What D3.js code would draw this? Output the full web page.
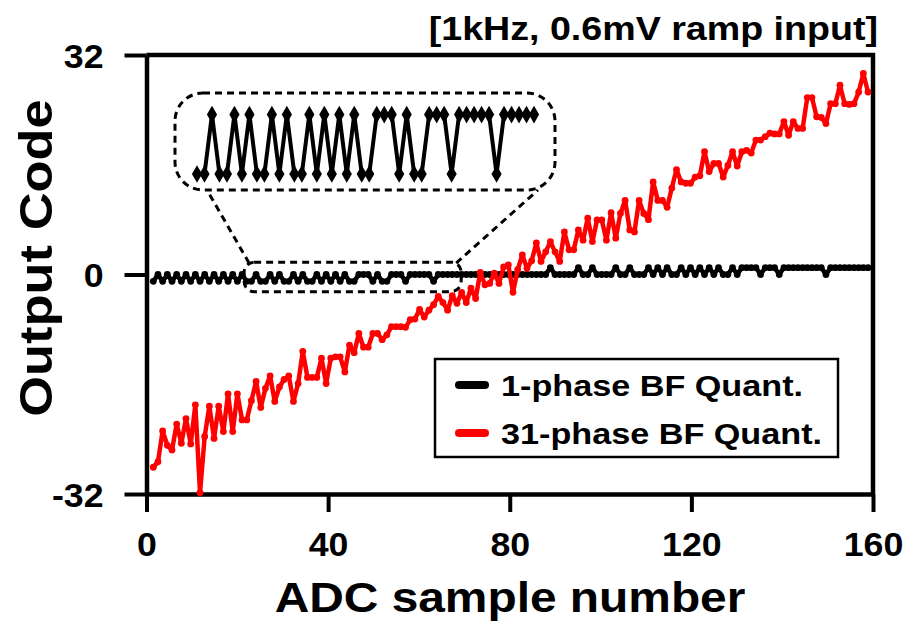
<!DOCTYPE html>
<html>
<head>
<meta charset="utf-8">
<script src="https://cdn.jsdelivr.net/npm/d3@7"></script>
<style>
  html, body { margin: 0; padding: 0; background: #fff; }
  svg { display: block; }
  text { font-family: "Liberation Sans", Arial, Helvetica, sans-serif; font-weight: bold; fill: #000; }
</style>
</head>
<body>
<svg id="chart" width="913" height="632"></svg>
<script>
// ---- data ----
const xTicks = [0, 40, 80, 120, 160];
const yTicks = [-32, 0, 32];
const sampleRange = [1.5, 158.9];          // first and last ADC sample shown

// 31-phase BF quantizer output code
const redCode = [
  -28.1, -27.3, -22.8, -24.9, -25.6, -21.8, -24.6, -21.0, -24.7, -19.0,
  -31.8, -23.6, -19.2, -23.9, -19.2, -22.9, -17.4, -22.9, -17.4, -21.2,
  -21.2, -18.4, -15.6, -19.4, -16.6,
  -14.8, -18.5, -16.4, -15.3, -14.8, -18.5, -15.9, -11.2, -15.0, -15.0,
  -15.0, -12.2, -15.9, -12.2, -12.0, -12.0, -14.2, -10.3, -11.4, -8.6,
  -10.6, -10.6, -8.6, -8.6, -9.5, -8.8,
  -7.6, -7.6, -7.6, -7.7, -6.6, -6.5, -5.1, -6.2, -5.2, -4.4,
  -3.2, -4.1, -5.2, -3.1, -4.2, -2.6, -4.1, -2.0, -3.5, 0.3,
  -1.5, -1.3, 0.2, -1.3,
  1.1, 1.4, -2.6, 0.7, 2.85, 0.9, 2.0, 4.6, 1.9, 3.3,
  4.8, 3.3, 1.9, 6.2, 3.6, 3.6, 6.5, 5.0, 8.2, 4.8,
  7.95, 7.95, 5.0, 9.0, 5.3, 8.9, 10.8, 6.5,
  6.2, 10.8, 8.9, 8.0, 13.5, 10.8, 10.8, 9.8, 12.6, 15.3,
  13.5, 13.3, 13.3, 14.2, 14.4, 17.9, 15.0, 16.2, 16.2, 14.2,
  15.9, 17.9, 15.8, 17.9, 18.1,
  17.7, 19.6, 19.6, 20.1, 20.6, 20.5, 20.5, 22.3, 20.3, 22.3,
  21.3, 21.3, 25.8, 25.8, 23.0, 22.9, 22.0, 24.9, 24.9, 27.6,
  24.9, 24.8, 24.9, 26.6, 29.3, 26.6
];

// 1-phase BF quantizer output code
const blackCode = [
  -1, 0, -1, 0, -1, 0, -1, 0, -1, 0, -1, 0, -1, 0, -1, 0, -1, 0, -1, 0,
  -1, -1, 0, -1, -1, 0, -1, 0, -1, -1, 0, -1, 0, -1, -1, 0, -1, 0, -1, 0,
  -1, 0, -1, -1, 0, 0, 0, -1, 0, -1, -1, 0, 0, 0, -1, 0, 0, 0, 0, 0,
  -1, 0, 0, 0, 0, 0,
  0, 0, 0, 0, 0, 0, 0, 0, 0, 0, 0, 0, 0, 0, 0, 0, 0, 0, 0,
  1, 0, 0, 0, 0, 0, 1, 0, 0, 1, 0, 0, 0, 0, 1, 0, 0, 1, 0, 0, 0,
  1, 0, 1, 0, 1, 0, 0, 1, 0, 1, 0, 1, 0, 1, 0, 1, 0, 0, 1, 0, 1, 1, 1, 1,
  0, 1, 1, 1, 0, 1, 1, 1, 1, 1, 1, 1, 1, 1, 0, 1, 1, 1, 1, 1, 1, 1, 1, 1
];

// magnified window (sample range and code range)
const zoomWindow = { x0: 21.5, x1: 69.3, y0: -2.5, y1: 1.8 };

const seriesNames = ["1-phase BF Quant.", "31-phase BF Quant."];
const seriesColors = ["#000000", "#ff0000"];
const titleText = "[1kHz, 0.6mV ramp input]";
const xLabel = "ADC sample number";
const yLabel = "Output Code";

// ---- layout ----
const SX = 1.14;   // wide bold lettering
const TX = 1.05;   // tick label widening
const svg = d3.select("#chart");
svg.append("rect").attr("width", 913).attr("height", 632).attr("fill", "#fff");

const x = d3.scaleLinear().domain([0, 160]).range([146.5, 873]);
const y = d3.scaleLinear().domain([-32, 32]).range([494, 55]);

const sampleAt = (i, n) => sampleRange[0] + i * (sampleRange[1] - sampleRange[0]) / (n - 1);
const redPts = redCode.map((v, i) => [sampleAt(i, redCode.length), v]);
const blackPts = blackCode.map((v, i) => [sampleAt(i, blackCode.length), v]);

function label(parent, px, py, str, size, anchor, rot) {
  parent.append("g")
    .attr("transform", `translate(${px},${py}) rotate(${rot || 0}) scale(${SX},1)`)
    .append("text")
    .attr("text-anchor", anchor)
    .style("font-size", size + "px")
    .text(str);
}

// ---- axes ----
const gx = svg.append("g")
  .attr("transform", `translate(0,${y(-32)})`)
  .call(d3.axisBottom(x).tickValues(xTicks).tickSize(18).tickSizeOuter(0).tickFormat(d => String(d)));
const gy = svg.append("g")
  .attr("transform", `translate(${x(0)},0)`)
  .call(d3.axisLeft(y).tickValues(yTicks).tickSize(22).tickSizeOuter(0).tickFormat(d => String(d)));

[gx, gy].forEach(g => {
  g.select(".domain").attr("stroke", "#000").attr("stroke-width", 4.5);
  g.selectAll(".tick line").attr("stroke", "#000").attr("stroke-width", 4);
  g.selectAll(".tick text").attr("fill", "#000").style("font-size", "34px")
    .style("font-family", "'Liberation Sans', Arial, sans-serif").style("font-weight", "bold");
});
gx.selectAll(".tick text").attr("transform", `scale(${TX},1)`).attr("y", 38).attr("dy", "0.71em");
gy.selectAll(".tick text").attr("x", -43 / TX).attr("dy", "0.36em").attr("transform", `scale(${TX},1)`);

// frame: top and right edges
svg.append("path")
  .attr("d", `M${x(0)},${y(32)}H${x(160)}V${y(-32)}`)
  .attr("fill", "none").attr("stroke", "#000").attr("stroke-width", 4.5);

// ---- series ----
const line = d3.line().x(d => x(d[0])).y(d => y(d[1]));

function drawSeries(pts, color, width, r) {
  const g = svg.append("g");
  g.append("path").datum(pts).attr("d", line)
    .attr("fill", "none").attr("stroke", color).attr("stroke-width", width)
    .attr("stroke-linejoin", "round");
  g.selectAll("circle").data(pts).join("circle")
    .attr("cx", d => x(d[0])).attr("cy", d => y(d[1])).attr("r", r).attr("fill", color);
}
drawSeries(blackPts, seriesColors[0], 4.5, 3.4);
drawSeries(redPts, seriesColors[1], 4.5, 3.4);

// ---- magnified view of the 1-phase output ----
const dash = "7,5";
const zb = {
  l: x(zoomWindow.x0), r: x(zoomWindow.x1),
  t: y(zoomWindow.y1), b: y(zoomWindow.y0)
};
svg.append("rect")
  .attr("x", zb.l).attr("y", zb.t).attr("width", zb.r - zb.l).attr("height", zb.b - zb.t)
  .attr("rx", 10).attr("fill", "none").attr("stroke", "#000").attr("stroke-width", 3)
  .attr("stroke-dasharray", dash);

const inset = { l: 175, r: 555, t: 93, b: 190 };
svg.append("rect")
  .attr("x", inset.l).attr("y", inset.t).attr("width", inset.r - inset.l).attr("height", inset.b - inset.t)
  .attr("rx", 28).attr("fill", "#fff").attr("stroke", "#000").attr("stroke-width", 3)
  .attr("stroke-dasharray", dash);

svg.append("line").attr("x1", zb.l + 5).attr("y1", zb.t + 1).attr("x2", 207).attr("y2", inset.b)
  .attr("stroke", "#000").attr("stroke-width", 3).attr("stroke-dasharray", dash);
svg.append("line").attr("x1", zb.r - 5).attr("y1", zb.t + 1).attr("x2", 538).attr("y2", inset.b)
  .attr("stroke", "#000").attr("stroke-width", 3).attr("stroke-dasharray", dash);

const insetPts = blackPts.filter(d => d[0] >= zoomWindow.x0 && d[0] <= zoomWindow.x1);
const ix = d3.scaleLinear().domain(d3.extent(insetPts, d => d[0])).range([197, 534]);
const iy = d3.scaleLinear().domain([-1, 0]).range([174, 114.6]);
const iline = d3.line().x(d => ix(d[0])).y(d => iy(d[1]));
const ig = svg.append("g");
ig.append("path").datum(insetPts).attr("d", iline)
  .attr("fill", "none").attr("stroke", "#000").attr("stroke-width", 4).attr("stroke-linejoin", "round");
ig.selectAll("path.mk").data(insetPts).join("path").attr("class", "mk")
  .attr("transform", d => `translate(${ix(d[0])},${iy(d[1])})`)
  .attr("d", d3.symbol(d3.symbolDiamond, 90)).attr("fill", "#000");

// ---- legend ----
const lg = svg.append("g");
lg.append("rect").attr("x", 435).attr("y", 359).attr("width", 403).attr("height", 98)
  .attr("fill", "#fff").attr("stroke", "#000").attr("stroke-width", 2.5);
seriesNames.forEach((name, k) => {
  const ly = 385 + k * 48;
  lg.append("line").attr("x1", 459).attr("x2", 485).attr("y1", ly).attr("y2", ly)
    .attr("stroke", seriesColors[k]).attr("stroke-width", 8).attr("stroke-linecap", "round");
  label(lg, 501, ly + 11, name, 30, "start");
});

// ---- titles ----
label(svg, 878, 40, titleText, 33, "end");
label(svg, 510, 612, xLabel, 42, "middle");
label(svg, 52, 258, yLabel, 46, "middle", -90);
</script>
</body>
</html>
